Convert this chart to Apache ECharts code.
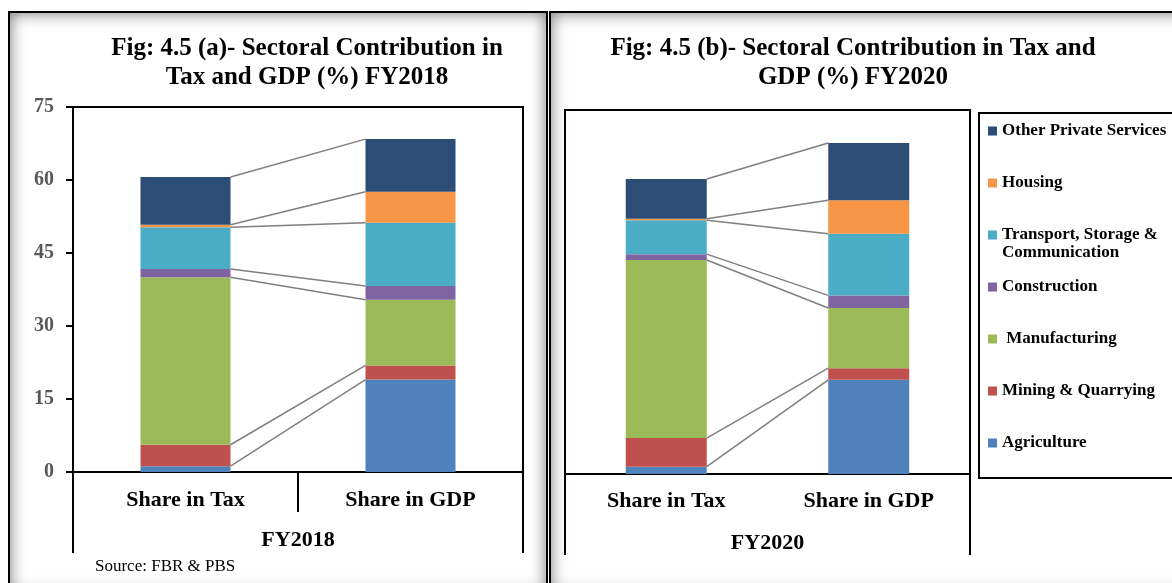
<!DOCTYPE html>
<html lang="en">
<head>
  <meta charset="UTF-8">
  <title>Sectoral Contribution in Tax and GDP</title>
  <script src="https://cdn.jsdelivr.net/npm/echarts@6/dist/echarts.min.js"></script>
  <style>
    html, body { margin: 0; padding: 0; overflow: hidden; background: #fff; }
    .panel { position: absolute; border: 2px solid #000; background: #fff;
             box-shadow: inset 0 0 16px rgba(0, 0, 0, 0.55); }
    #main { position: absolute; left: 0; top: 0; width: 1172px; height: 583px; }
  </style>
</head>
<body>
  <!-- panel frames -->
  <div class="panel" style="left: 8px; top: 11px; width: 536px; height: 580px"></div>
  <div class="panel" style="left: 549px; top: 11px; width: 640px; height: 580px"></div>
  <div id="main"></div>

  <script>
    // data
    const categories = ['Share in Tax', 'Share in GDP']
    const sectors = ['Agriculture', 'Mining & Quarrying', 'Manufacturing', 'Construction',
      'Transport, Storage & Communication', 'Housing', 'Other Private Services']
    const tax2018 = [1.2, 4.4, 34.4, 1.7, 8.6, 0.5, 9.8]
    const gdp2018 = [19.0, 2.9, 13.5, 2.8, 13.0, 6.4, 10.8]
    const tax2020 = [1.5, 5.9, 36.7, 1.2, 7.0, 0.3, 8.2]
    const gdp2020 = [19.4, 2.4, 12.4, 2.6, 12.7, 6.9, 11.8]
    const yMax = 75
    const yStep = 15

    const colors = ['#4f81bd', '#c0504d', '#9bbb59', '#8064a2', '#4bacc6', '#f79646', '#2c4d75']
    const serif = "'Liberation Serif', 'Times New Roman', serif"

    let myChart = echarts.init(document.querySelector('#main'), null, { renderer: 'canvas' })

    // running totals for the series lines
    function cumulate(arr) {
      let s = 0
      return arr.map(v => (s += v))
    }

    // series line between the two stacked columns
    function connector(params, api) {
      let a = api.coord([api.value(0), api.value(1)])
      let b = api.coord([api.value(2), api.value(3)])
      let half = api.size([1, 0])[0] * 0.2
      return {
        type: 'line',
        shape: { x1: a[0] + half, y1: a[1], x2: b[0] - half, y2: b[1] },
        style: { stroke: '#7f7f7f', lineWidth: 1.5 }
      }
    }

    function panelSeries(g, tax, gdp) {
      let list = sectors.map((name, i) => ({
        name: name,
        type: 'bar',
        xAxisIndex: g * 2,
        yAxisIndex: g,
        stack: 'fy' + g,
        barWidth: '40%',
        itemStyle: { color: colors[i] },
        data: [tax[i], gdp[i]]
      }))
      let ct = cumulate(tax)
      let cg = cumulate(gdp)
      list.push({
        type: 'custom',
        xAxisIndex: g * 2,
        yAxisIndex: g,
        renderItem: connector,
        encode: { x: [0, 2], y: [1, 3] },
        data: ct.map((v, i) => [0, v, 1, cg[i]]),
        silent: true
      })
      return list
    }

    const catLabel = { fontFamily: serif, fontWeight: 'bold', fontSize: 22, color: '#000' }
    const blackLine = { color: '#000', width: 2 }

    // legend: one component per item so spacing stays even
    const legendOrder = sectors.slice().reverse()
    const legends = legendOrder.map((name, k) => {
      let twoLine = name.indexOf('Communication') >= 0
      let center = 131 + k * 52
      return {
        data: [name],
        orient: 'vertical',
        left: 988,
        top: center - (twoLine ? 27 : 9),
        padding: 0,
        icon: 'rect',
        itemWidth: 9,
        itemHeight: 9,
        formatter(n) {
          if (n === 'Manufacturing') return ' Manufacturing'
          // blank first line keeps the icon level with "Transport, Storage &"
          if (n.indexOf('Communication') >= 0) return ' \n' + n.replace('& Communication', '&\nCommunication')
          return n
        },
        textStyle: {
          fontFamily: serif, fontWeight: 'bold', fontSize: 17, color: '#000', lineHeight: 18
        }
      }
    })

    let options = {
      animation: false,
      title: [
        {
          text: 'Fig: 4.5 (a)- Sectoral Contribution in\nTax and GDP (%) FY2018',
          left: 307, top: 34, textAlign: 'center', padding: 0,
          textStyle: { fontFamily: serif, fontWeight: 'bold', fontSize: 25, lineHeight: 29, color: '#000' }
        },
        {
          text: 'Fig: 4.5 (b)- Sectoral Contribution in Tax and\nGDP (%) FY2020',
          left: 853, top: 34, textAlign: 'center', padding: 0,
          textStyle: { fontFamily: serif, fontWeight: 'bold', fontSize: 25, lineHeight: 29, color: '#000' }
        },
        {
          text: 'Source: FBR & PBS',
          left: 95, top: 558, padding: 0,
          textStyle: { fontFamily: serif, fontWeight: 'normal', fontSize: 17, color: '#000' }
        }
      ],
      legend: legends,
      grid: [
        { left: 73, top: 107, width: 450, height: 365, show: true, borderColor: '#000', borderWidth: 2 },
        { left: 565, top: 110, width: 405, height: 364, show: true, borderColor: '#000', borderWidth: 2 }
      ],
      xAxis: [
        {
          gridIndex: 0, type: 'category', data: categories, position: 'bottom',
          axisLine: { onZero: false, lineStyle: blackLine },
          axisTick: { show: true, length: 40, lineStyle: blackLine },
          axisLabel: Object.assign({ margin: 17 }, catLabel)
        },
        {
          gridIndex: 0, type: 'category', data: ['FY2018'], position: 'bottom', offset: 0,
          axisLine: { show: false, onZero: false },
          axisTick: { show: true, length: 81, lineStyle: blackLine },
          axisLabel: Object.assign({ margin: 57 }, catLabel)
        },
        {
          gridIndex: 1, type: 'category', data: categories, position: 'bottom',
          axisLine: { onZero: false, lineStyle: blackLine },
          axisTick: { show: false },
          axisLabel: Object.assign({ margin: 16 }, catLabel)
        },
        {
          gridIndex: 1, type: 'category', data: ['FY2020'], position: 'bottom', offset: 0,
          axisLine: { show: false, onZero: false },
          axisTick: { show: true, length: 81, lineStyle: blackLine },
          axisLabel: Object.assign({ margin: 58 }, catLabel)
        }
      ],
      yAxis: [
        {
          gridIndex: 0, type: 'value', min: 0, max: yMax, interval: yStep,
          axisLine: { show: true, lineStyle: blackLine },
          axisTick: { show: true, length: 7, lineStyle: blackLine },
          axisLabel: { margin: 19, fontFamily: serif, fontWeight: 'bold', fontSize: 20, color: '#595959' },
          splitLine: { show: false }
        },
        {
          gridIndex: 1, type: 'value', min: 0, max: yMax, interval: yStep,
          axisLine: { show: true, lineStyle: blackLine },
          axisTick: { show: false },
          axisLabel: { show: false },
          splitLine: { show: false }
        }
      ],
      graphic: [
        {
          type: 'rect',
          shape: { x: 979, y: 113, width: 210, height: 365 },
          style: { fill: 'none', stroke: '#000', lineWidth: 2 }
        }
      ],
      series: panelSeries(0, tax2018, gdp2018).concat(panelSeries(1, tax2020, gdp2020))
    }

    myChart.setOption(options)
  </script>
</body>
</html>
